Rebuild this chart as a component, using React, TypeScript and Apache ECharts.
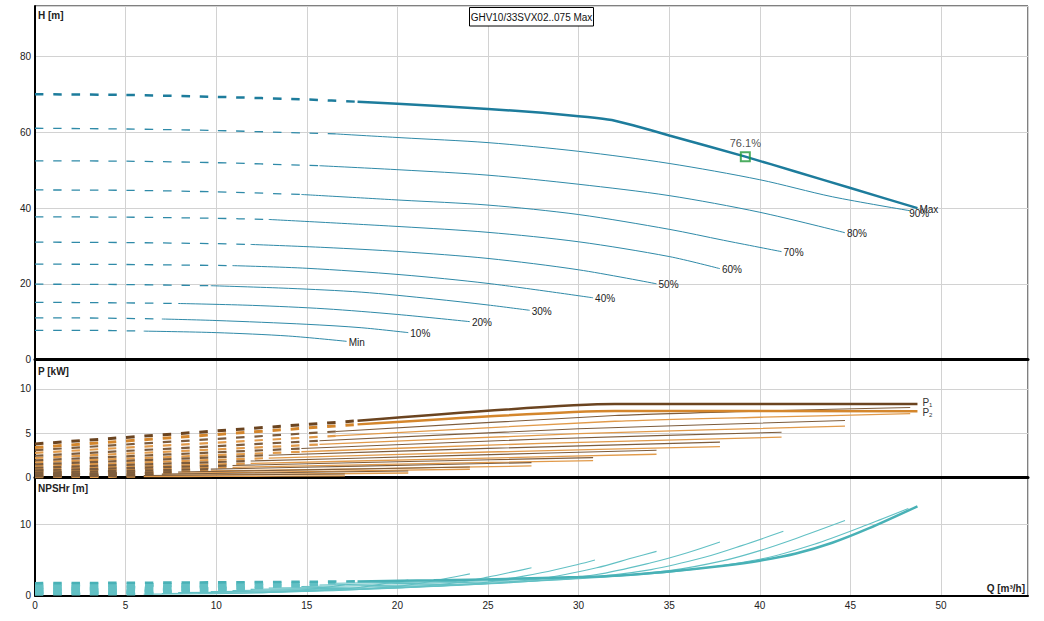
import React, { useEffect, useRef } from "react";
import * as echarts from "echarts";

// ---------- data ----------
const TITLE = "GHV10/33SVX02..075 Max";
const SPEEDS = ["Max", "90%", "80%", "70%", "60%", "50%", "40%", "30%", "20%", "10%", "Min"];
// flow where the dashed (non-recommended) part ends on each curve
const TRANSITION_Q = [17.8, 16.6, 15.7, 14.7, 12.9, 11.9, 10.9, 9.7, 7.9, 7.0, 6.0];

const X_TICKS = [0, 5, 10, 15, 20, 25, 30, 35, 40, 45, 50];
const H_TICKS = [0, 20, 40, 60, 80];
const P_TICKS = [0, 5, 10];
const N_TICKS = [0, 10];

// Head curves [Q m3/h, H m]
const H_MAX = [[0, 70.1], [5, 69.9], [10, 69.4], [15, 68.7], [17.8, 68.1], [20, 67.6], [25, 66.2], [28, 65.2], [30, 64.3], [31, 63.8], [32, 63.1], [33, 61.9], [35, 59.2], [39.2, 53.6], [42, 49.6], [45, 45.3], [48.7, 40.0]];
const H_90 = [[0, 61.1], [5, 60.9], [10, 60.5], [16.6, 59.6], [20.2, 58.6], [25, 57.3], [30, 55.0], [35, 51.8], [40, 47.5], [44, 43.0], [48.3, 39.3]];
const H_80 = [[0, 52.5], [5, 52.4], [10, 52.0], [15.7, 51.2], [20.2, 50.1], [25, 48.7], [30, 46.3], [35, 43.3], [40, 38.9], [44.7, 33.5]];
const H_70 = [[0, 44.8], [5, 44.7], [10, 44.3], [14.7, 43.6], [20.2, 42.1], [25, 40.8], [30, 38.3], [35, 34.4], [38, 31.5], [41.2, 28.5]];
const H_60 = [[0, 37.7], [5, 37.6], [10, 37.3], [12.9, 37.0], [20.2, 35.1], [25, 33.6], [30, 31.1], [35, 27.2], [37.8, 24.0]];
const H_50 = [[0, 31.0], [5, 30.9], [10, 30.6], [11.9, 30.4], [16, 29.6], [20.2, 28.5], [25, 26.7], [30, 23.7], [34.3, 20.0]];
const H_40 = [[0, 25.2], [5, 25.1], [10.9, 24.8], [15, 24.1], [20.2, 22.4], [25, 20.1], [30.8, 16.3]];
const H_30 = [[0, 19.9], [5, 19.8], [9.7, 19.5], [14, 18.8], [18, 17.8], [22, 16.0], [25, 14.4], [27.3, 13.0]];
const H_20 = [[0, 15.1], [4, 15.0], [7.9, 14.8], [12, 14.3], [16, 13.4], [20, 11.9], [24, 10.0]];
const H_10 = [[0, 11.0], [3.5, 10.95], [7.0, 10.7], [10, 10.3], [15, 9.3], [18, 8.4], [20.6, 7.1]];
const H_MIN = [[0, 7.7], [3, 7.7], [6.0, 7.5], [10, 7.1], [14, 6.2], [17.2, 4.8]];

// Power input P1 [Q, kW]
const P1_MAX = [[0, 3.8], [17.8, 6.4], [32, 8.28], [48.7, 8.28]];
const P1_90 = [[0, 3.1], [16.6, 5.2], [32, 7.0], [40, 7.5], [48.3, 7.9]];
const P1_80 = [[0, 2.47], [15.7, 4.16], [30, 5.5], [44.7, 6.43]];
const P1_70 = [[0, 1.95], [14.7, 3.28], [28, 4.35], [41.2, 5.12]];
const P1_60 = [[0, 1.5], [12.9, 2.53], [25, 3.3], [37.8, 4.0]];
const P1_50 = [[0, 1.12], [11.9, 1.88], [23, 2.48], [34.3, 3.09]];
const P1_40 = [[0, 0.82], [10.9, 1.38], [20, 1.8], [30.8, 2.26]];
const P1_30 = [[0, 0.57], [9.7, 0.97], [18, 1.3], [27.4, 1.7]];
const P1_20 = [[0, 0.38], [7.9, 0.64], [15, 0.88], [24, 1.2]];
const P1_10 = [[0, 0.24], [7.0, 0.4], [12, 0.53], [20.6, 0.76]];
const P1_MIN = [[0, 0.14], [6.0, 0.24], [10, 0.3], [17.1, 0.42]];

// Shaft power P2 [Q, kW]
const P2_MAX = [[0, 3.4], [17.8, 6.0], [32, 7.5], [48.7, 7.49]];
const P2_90 = [[0, 2.8], [16.6, 4.7], [32, 6.35], [40, 6.8], [48.3, 7.2]];
const P2_80 = [[0, 2.22], [15.7, 3.74], [30, 4.95], [44.7, 5.8]];
const P2_70 = [[0, 1.73], [14.7, 2.92], [28, 3.87], [41.2, 4.56]];
const P2_60 = [[0, 1.31], [12.9, 2.21], [25, 2.89], [37.8, 3.5]];
const P2_50 = [[0, 0.96], [11.9, 1.61], [23, 2.12], [34.3, 2.64]];
const P2_40 = [[0, 0.7], [10.9, 1.17], [20, 1.53], [30.8, 1.92]];
const P2_30 = [[0, 0.44], [9.7, 0.76], [18, 1.0], [27.4, 1.32]];
const P2_20 = [[0, 0.3], [7.9, 0.51], [15, 0.69], [24, 0.95]];
const P2_10 = [[0, 0.17], [7.0, 0.28], [12, 0.37], [20.6, 0.53]];
const P2_MIN = [[0, 0.07], [6.0, 0.12], [10, 0.15], [17.1, 0.2]];

// NPSHr [Q, m]
const N_MAX = [[0, 1.75], [9, 1.85], [17.8, 2.0], [22, 2.15], [26, 2.35], [30, 2.6], [32, 2.8], [35, 3.4], [38, 4.2], [40, 4.9], [42, 5.9], [44, 7.4], [46, 9.4], [48.7, 12.5]];
const N_90 = [[0, 1.53], [8, 1.6], [16.6, 1.74], [20, 1.87], [25, 2.1], [30, 2.5], [35, 3.3], [40, 5.1], [43, 7.2], [46, 10.0], [48.2, 12.2]];
const N_80 = [[0, 1.31], [8, 1.4], [15.7, 1.5], [20, 1.69], [25, 1.91], [30, 2.36], [35, 3.5], [38, 4.9], [40, 6.3], [42, 8.0], [44.7, 10.5]];
const N_70 = [[0, 1.12], [7, 1.2], [14.7, 1.29], [20, 1.47], [25, 1.73], [30, 2.43], [34, 3.65], [37, 5.4], [39, 7.0], [41.3, 9.0]];
const N_60 = [[0, 0.94], [6, 1.0], [12.9, 1.08], [18, 1.22], [23, 1.46], [27, 1.94], [31, 2.96], [34, 4.6], [36, 6.0], [37.8, 7.5]];
const N_50 = [[0, 0.78], [6, 0.83], [11.9, 0.89], [16, 1.0], [20, 1.15], [24, 1.53], [28, 2.41], [31, 3.9], [33, 5.3], [34.3, 6.2]];
const N_40 = [[0, 0.63], [5, 0.67], [10.9, 0.72], [14, 0.81], [18, 0.94], [22, 1.3], [25, 1.9], [28, 3.24], [30, 4.4], [30.9, 5.0]];
const N_30 = [[0, 0.5], [5, 0.53], [9.7, 0.57], [13, 0.64], [17, 0.8], [20, 1.08], [23, 1.73], [25, 2.6], [26.5, 3.4], [27.4, 3.9]];
const N_20 = [[0, 0.38], [4, 0.4], [7.9, 0.43], [11, 0.49], [14, 0.56], [17, 0.77], [20, 1.3], [22, 2.07], [23.2, 2.66], [24, 3.05]];
const N_10 = [[0, 0.27], [3.5, 0.29], [7.0, 0.31], [10, 0.36], [13, 0.46], [16, 0.74], [18, 1.19], [19.5, 1.77], [20.6, 2.2]];
const N_MIN = [[0, 0.19], [3, 0.2], [6.0, 0.22], [9, 0.27], [12, 0.38], [14, 0.6], [15.5, 0.99], [16.5, 1.32], [17.1, 1.53]];

// best efficiency point on the Max curve
const BEP = [39.2, 53.6];
const BEP_LABEL = "76.1%";

const H_CURVES = [H_MAX, H_90, H_80, H_70, H_60, H_50, H_40, H_30, H_20, H_10, H_MIN];
const P1_CURVES = [P1_MAX, P1_90, P1_80, P1_70, P1_60, P1_50, P1_40, P1_30, P1_20, P1_10, P1_MIN];
const P2_CURVES = [P2_MAX, P2_90, P2_80, P2_70, P2_60, P2_50, P2_40, P2_30, P2_20, P2_10, P2_MIN];
const N_CURVES = [N_MAX, N_90, N_80, N_70, N_60, N_50, N_40, N_30, N_20, N_10, N_MIN];

// ---------- layout / style ----------
const FONT = "'Liberation Sans', Arial, sans-serif";
const X_MAX = 54.8;
const H_MAX_AX = 93.4;
const P_MAX_AX = 13.3;
const N_MAX_AX = 16.5;
const DASH = [8.5, 9.8];
const GRID_LEFT = 35;
const GRID_W = 993;

function buildOption() {
  const series: any[] = [];
  const addPair = (
    pts: number[][], qt: number, xi: number, color: string, w: number, dw: number,
    endLabel: any, z: number, smooth: number | boolean
  ) => {
    const dash = pts.filter((p) => p[0] <= qt + 1e-9);
    const solid = pts.filter((p) => p[0] >= qt - 1e-9);
    const common = {
      type: "line", xAxisIndex: xi, yAxisIndex: xi, showSymbol: false, symbol: "none",
      silent: true, smooth, emphasis: { disabled: true }, z,
    };
    series.push({ ...common, data: dash, lineStyle: { color, width: dw, type: DASH } });
    series.push({
      ...common, data: solid, lineStyle: { color, width: w, type: "solid" },
      ...(endLabel ? { endLabel } : {}),
    });
  };

  const hLabel = (name: string, offset: number[]) => ({
    show: true, formatter: name, distance: 2, offset, fontSize: 10, color: "#222", fontFamily: FONT,
  });
  const pLabel = (sub: string, offset: number[]) => ({
    show: true, formatter: "{a|P}{b|" + sub + "}", distance: 5, offset,
    rich: {
      a: { fontSize: 10, color: "#333", fontFamily: FONT },
      b: { fontSize: 6, color: "#333", fontFamily: FONT, padding: [6, 0, 0, 0] },
    },
  });

  // draw lower speeds first, Max last (on top)
  for (let i = SPEEDS.length - 1; i >= 0; i--) {
    const isMax = i === 0;
    const qt = TRANSITION_Q[i];
    const lblOffset = SPEEDS[i] === "90%" ? [-3, 3] : [0, 1];
    // head
    addPair(H_CURVES[i], qt, 0, isMax ? "#1d7c9c" : "#2f8aa8", isMax ? 2.5 : 1, isMax ? 2.5 : 1.3,
      hLabel(SPEEDS[i], lblOffset), isMax ? 4 : 2, isMax ? 0.15 : 0.3);
    // power P1 / P2
    addPair(P2_CURVES[i], qt, 1, isMax ? "#d4862c" : "#e19a4a", isMax ? 2.5 : 1.3, isMax ? 3 : 2.2,
      isMax ? pLabel("2", [0, 1]) : undefined, isMax ? 4 : 2, 0.2);
    addPair(P1_CURVES[i], qt, 1, isMax ? "#6b4420" : "#7d5c3c", isMax ? 2.5 : 1.1, isMax ? 3 : 2.2,
      isMax ? pLabel("1", [0, -2]) : undefined, isMax ? 5 : 3, 0.2);
    // NPSHr
    addPair(N_CURVES[i], qt, 2, isMax ? "#48b1b6" : "#62c0c4", isMax ? 2.5 : 1.1, 2.6,
      undefined, isMax ? 4 : 2, 0.3);
  }

  series.push({
    type: "scatter", xAxisIndex: 0, yAxisIndex: 0, data: [BEP], symbol: "rect", symbolSize: 9,
    silent: true, z: 10,
    itemStyle: { color: "rgba(255,255,255,0)", borderColor: "#21993a", borderWidth: 2 },
    label: { show: true, position: "top", distance: 3, formatter: BEP_LABEL, fontSize: 11, color: "#222", fontFamily: FONT },
  });

  const grids = [
    { top: 6, height: 353.5 },
    { top: 359.5, height: 118.2 },
    { top: 477.7, height: 118 },
  ].map((g) => ({
    left: GRID_LEFT, width: GRID_W, top: g.top, height: g.height, show: true,
    borderColor: "#000", borderWidth: 1, backgroundColor: "#fff",
    containLabel: false, outerBoundsMode: "none",
  }));

  const keep = (ticks: number[]) => (v: number) =>
    ticks.some((t) => Math.abs(t - v) < 1e-6) ? String(v) : "";

  const xAxis = [0, 1, 2].map((i) => ({
    type: "value", gridIndex: i, min: 0, max: X_MAX, interval: 5,
    axisLine: { show: true, onZero: false, lineStyle: { color: "#000", width: i === 2 ? 2 : 3 } },
    axisTick: { show: false },
    axisLabel: { show: i === 2, formatter: keep(X_TICKS), fontSize: 10, color: "#222", margin: 5, fontFamily: FONT },
    splitLine: { show: true, lineStyle: { color: "#d2d2d2", width: 1 } },
  }));

  const yDefs = [
    { max: H_MAX_AX, interval: 20, ticks: H_TICKS },
    { max: P_MAX_AX, interval: 5, ticks: P_TICKS },
    { max: N_MAX_AX, interval: 10, ticks: N_TICKS },
  ];
  const yAxis = yDefs.map((d, i) => ({
    type: "value", gridIndex: i, min: 0, max: d.max, interval: d.interval,
    axisLine: { show: true, lineStyle: { color: "#000", width: 2 } },
    axisTick: { show: false },
    axisLabel: { formatter: keep(d.ticks), fontSize: 10, color: "#222", margin: 4, fontFamily: FONT },
    splitLine: { show: true, lineStyle: { color: "#d2d2d2", width: 1 } },
  }));

  const axisTitle = (text: string, x: number, y: number, align = "left") => ({
    type: "text", x, y, z: 100, silent: true,
    style: { text, fontSize: 10, fontWeight: "bold", fill: "#222", fontFamily: FONT, textAlign: align, textVerticalAlign: "middle" },
  });

  return {
    animation: false,
    backgroundColor: "#fff",
    textStyle: { fontFamily: FONT },
    grid: grids,
    xAxis,
    yAxis,
    series,
    graphic: [
      axisTitle("H [m]", 38, 15),
      axisTitle("P [kW]", 38, 371),
      axisTitle("NPSHr [m]", 38, 488),
      axisTitle("Q [m³/h]", 1025, 588, "right"),
      {
        type: "rect", z: 100, silent: true,
        shape: { x: 469.5, y: 7.5, width: 124, height: 18.5 },
        style: { fill: "#fff", stroke: "#000", lineWidth: 1 },
      },
      {
        type: "text", z: 101, silent: true, x: 531.5, y: 17,
        style: { text: TITLE, fontSize: 10, fill: "#111", fontFamily: FONT, textAlign: "center", textVerticalAlign: "middle" },
      },
    ],
  };
}

export default function App() {
  const ref = useRef<HTMLDivElement>(null);
  useEffect(() => {
    if (!ref.current) return;
    const chart = echarts.init(ref.current, null, { renderer: "svg" });
    chart.setOption(buildOption() as any);
    return () => chart.dispose();
  }, []);
  return (
    <div
      ref={ref}
      style={{ position: "fixed", left: 0, top: 0, width: 1044, height: 621, background: "#fff" }}
    />
  );
}
